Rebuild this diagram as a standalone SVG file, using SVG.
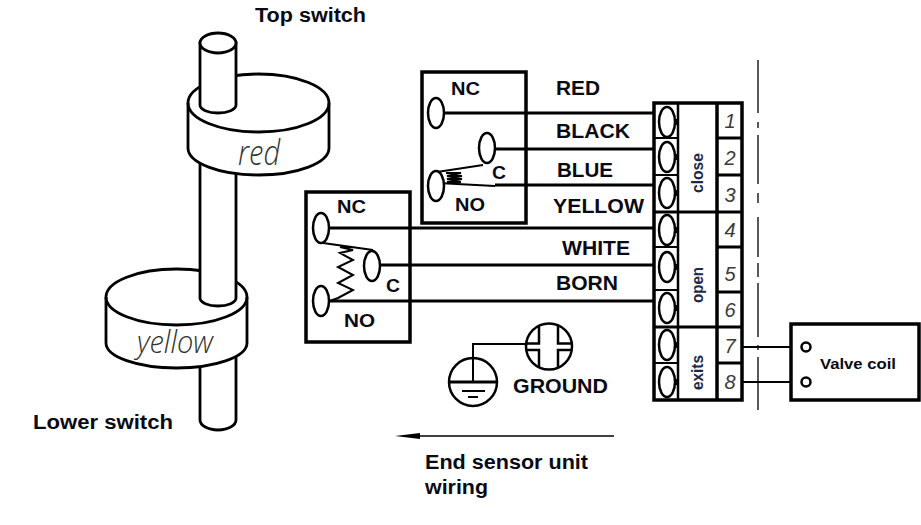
<svg xmlns="http://www.w3.org/2000/svg" width="921" height="525" viewBox="0 0 921 525">
<style>
.l{fill:#0a0a14;font-family:"Liberation Sans",Arial,sans-serif;font-weight:700;font-size:19.5px}
.s{fill:#0a0a14;font-family:"Liberation Sans",Arial,sans-serif;font-weight:700;font-size:18.5px}
.v{fill:#1a2a48;font-family:"Liberation Sans",Arial,sans-serif;font-weight:700;font-size:16px}
.n{fill:#3a3a3a;font-family:"Liberation Sans",Arial,sans-serif;font-style:italic;font-size:20px;text-anchor:middle}
.h{fill:#333;font-family:"Open Sans",Arial,sans-serif;font-style:italic;font-weight:300}
.b{fill:#fff;stroke:#000;stroke-width:3.5}
.t{fill:#fff;stroke:#000;stroke-width:2.8}
.o{fill:none;stroke:#000;stroke-width:2.8}
.w{fill:none;stroke:#000;stroke-width:3}
.f{fill:none;stroke:#000;stroke-width:2}
.e{fill:#fff;stroke:#000;stroke-width:2.5}
.c{fill:none;stroke:#000;stroke-width:2.5}
</style>
<rect width="921" height="525" fill="#fff"/>
<g id="lower-switch">
<path class="o" d="M200 355V420A18 10 0 0 0 236 420V355"/>
<path class="t" d="M106 297A70.500 28 0 0 1 247 297V343A70.500 25 0 0 1 106 343Z"/>
<path class="o" d="M106 297A70.500 28 0 0 0 247 297"/>
<path class="t" d="M200 160H236V298A18 8 0 0 1 200 298Z"/>
<text class="h" x="137" y="353" font-size="31" textLength="76" lengthAdjust="spacingAndGlyphs">yellow</text>
</g>
<g id="top-switch">
<path class="t" d="M188 103A70.500 29 0 0 1 329 103V148A70.500 27 0 0 1 188 148Z"/>
<path class="o" d="M188 103A70.500 29 0 0 0 329 103"/>
<path class="t" d="M200 43H236V105A18 8 0 0 1 200 105Z"/>
<ellipse class="t" cx="218" cy="43" rx="18" ry="10"/>
<text class="h" x="238" y="165" font-size="34" textLength="42" lengthAdjust="spacingAndGlyphs">red</text>
</g>
<g id="switch-nc-top">
<rect class="b" x="422" y="72" width="104" height="151"/>
<text class="s" x="451" y="95" textLength="29" lengthAdjust="spacingAndGlyphs">NC</text>
<text class="s" x="492" y="179" textLength="14" lengthAdjust="spacingAndGlyphs">C</text>
<text class="s" x="455" y="211" textLength="30" lengthAdjust="spacingAndGlyphs">NO</text>
<path class="f" d="M437 172L483 165M438 183L495 186"/>
<path class="f" d="M446 173H461L447 176H462L447 179H462L447 182H461"/>
<ellipse class="e" cx="436" cy="113" rx="8" ry="15"/>
<ellipse class="e" cx="487" cy="148" rx="8" ry="15"/>
<ellipse class="e" cx="436" cy="186" rx="8" ry="15"/>
</g>
<g id="switch-lower">
<rect class="b" x="306" y="192" width="104" height="150"/>
<text class="s" x="337" y="213" textLength="29" lengthAdjust="spacingAndGlyphs">NC</text>
<text class="s" x="386" y="292" textLength="14" lengthAdjust="spacingAndGlyphs">C</text>
<text class="s" x="344" y="327" textLength="31" lengthAdjust="spacingAndGlyphs">NO</text>
<path class="f" d="M323 243L373 250M340 247L353 250L340 253L353 260L338 267L353 275L338 283L353 290L338 298L330 301"/>
<ellipse class="e" cx="321" cy="228" rx="8" ry="15"/>
<ellipse class="e" cx="372" cy="266" rx="8" ry="15"/>
<ellipse class="e" cx="321" cy="301" rx="8" ry="15"/>
</g>
<g id="connectors">
<path class="w" d="M444 113H654M495 149H654M495 185H654M329 228H654M380 265H654M329 301H654"/>
<path class="f" d="M742 347H800M742 382H800"/>
<path class="f" d="M473 382V344H526"/>
<path d="M758 60V113M758 122V128M758 135V184M758 193V203M758 217V257M758 263V277M758 283V337M758 345V350M758 357V410" fill="none" stroke="#000" stroke-width="1.300"/>
<path d="M614 436H415" fill="none" stroke="#000" stroke-width="1.300"/>
<path d="M395 436L420 433V439Z" fill="#000"/>
</g>
<g id="terminal-block">
<rect class="b" x="654" y="103" width="88" height="297"/>
<path class="f" d="M654 138H678M654 175H678M654 247H678M654 290H678M654 363H678"/>
<path class="w" d="M654 212H742M654 327H742M717 138H742M717 175H742M717 247H742M717 292H742M717 363H742"/>
<path fill="none" stroke="#000" stroke-width="2.500" d="M678 103V400"/>
<path fill="none" stroke="#000" stroke-width="3.500" d="M717 103V400"/>
<g id="screws">
<ellipse class="e" cx="667" cy="122" rx="8" ry="15"/>
<ellipse class="e" cx="667" cy="157" rx="8" ry="15"/>
<ellipse class="e" cx="667" cy="193" rx="8" ry="15"/>
<ellipse class="e" cx="667" cy="230" rx="8" ry="15"/>
<ellipse class="e" cx="667" cy="267" rx="8" ry="15"/>
<ellipse class="e" cx="667" cy="308" rx="8" ry="15"/>
<ellipse class="e" cx="667" cy="345" rx="8" ry="15"/>
<ellipse class="e" cx="667" cy="382" rx="8" ry="15"/>
</g>
<path d="M674 119h4v6h-4zM674 154h4v6h-4zM674 190h4v6h-4zM674 227h4v6h-4zM674 264h4v6h-4zM674 305h4v6h-4zM674 342h4v6h-4zM674 379h4v6h-4z" fill="#000"/>
<text class="v" transform="translate(703 193) rotate(-90)" textLength="40" lengthAdjust="spacingAndGlyphs">close</text>
<text class="v" transform="translate(703 303) rotate(-90)" textLength="36" lengthAdjust="spacingAndGlyphs">open</text>
<text class="v" transform="translate(703 390) rotate(-90)" textLength="35" lengthAdjust="spacingAndGlyphs">exits</text>
<text class="n" x="730" y="128">1</text>
<text class="n" x="730" y="165">2</text>
<text class="n" x="730" y="202">3</text>
<text class="n" x="730" y="237">4</text>
<text class="n" x="730" y="281">5</text>
<text class="n" x="730" y="317">6</text>
<text class="n" x="730" y="353">7</text>
<text class="n" x="730" y="389">8</text>
</g>
<g id="valve-coil">
<rect class="b" x="791" y="324" width="128" height="76"/>
<circle cx="806" cy="347" r="4.500" fill="#fff" stroke="#000" stroke-width="2.500"/>
<circle cx="806" cy="382" r="4.500" fill="#fff" stroke="#000" stroke-width="2.500"/>
<text x="820" y="369" fill="#0a0a14" font-family="Liberation Sans, Arial, sans-serif" font-weight="700" font-size="14.500" textLength="76" lengthAdjust="spacingAndGlyphs">Valve coil</text>
</g>
<g id="ground-terminal">
<circle class="c" cx="549" cy="346.500" r="23"/>
<path class="c" d="M539 325V343.500H526M558 325V343.500H572M539 368V350H526M558 368V350H572"/>
</g>
<g id="ground-symbol">
<circle class="e" cx="473" cy="382" r="24"/>
<path class="f" d="M473 344V382"/>
<path fill="none" stroke="#000" stroke-width="3" d="M449 382H497"/>
<path class="f" d="M462 391H485M468 397H478"/>
</g>
<g id="labels">
<text class="l" x="255" y="22" textLength="111" lengthAdjust="spacingAndGlyphs">Top switch</text>
<text class="l" x="33" y="429" textLength="140" lengthAdjust="spacingAndGlyphs">Lower switch</text>
<text class="l" x="556" y="95" textLength="44" lengthAdjust="spacingAndGlyphs">RED</text>
<text class="l" x="556" y="138" textLength="74" lengthAdjust="spacingAndGlyphs">BLACK</text>
<text class="l" x="557" y="177" textLength="56" lengthAdjust="spacingAndGlyphs">BLUE</text>
<text class="l" x="553" y="213" textLength="91" lengthAdjust="spacingAndGlyphs">YELLOW</text>
<text class="l" x="562" y="255" textLength="68" lengthAdjust="spacingAndGlyphs">WHITE</text>
<text class="l" x="556" y="290" textLength="62" lengthAdjust="spacingAndGlyphs">BORN</text>
<text class="l" x="513" y="393" textLength="95" lengthAdjust="spacingAndGlyphs">GROUND</text>
<text class="l" x="425" y="469" textLength="163" lengthAdjust="spacingAndGlyphs">End sensor unit</text>
<text class="l" x="425" y="494" textLength="63" lengthAdjust="spacingAndGlyphs">wiring</text>
</g>
</svg>
